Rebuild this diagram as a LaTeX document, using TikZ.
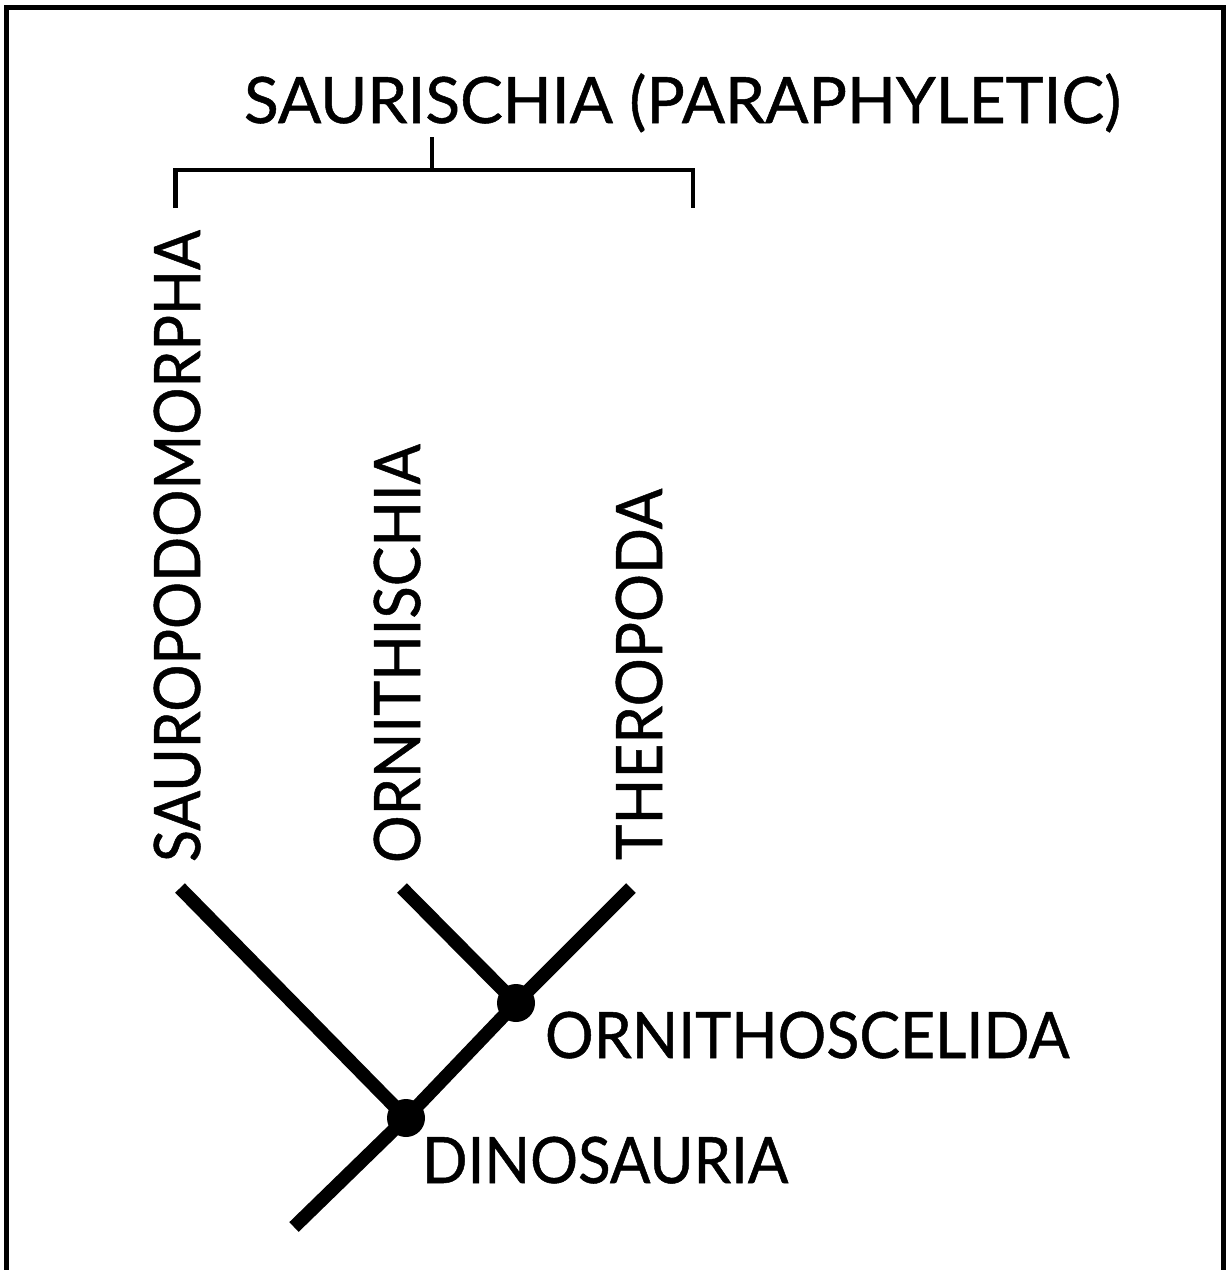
\documentclass[tikz,border=0pt]{standalone}
\usepackage{fontspec}
\setmainfont{Lato}[FakeBold=0.8]
\newcommand{\hsq}[2]{\scalebox{#1}[1]{#2}}
\begin{document}
\begin{tikzpicture}[x=1pt,y=1pt,
  lab/.style={inner sep=0pt, outer sep=0pt, font=\fontsize{64}{64}\selectfont},
  branch/.style={line width=13.5pt, line cap=butt},
  brk/.style={line width=4.5pt, line cap=butt, line join=miter},
  dot/.style={circle, fill=black, inner sep=0pt, minimum size=38pt}]
\useasboundingbox (0,0) rectangle (1229,-1270);
\clip (0,0) rectangle (1229,-1270);
\fill[white] (0,0) rectangle (1229,-1270);
% frame
\draw[line width=5pt] (6,-1280) -- (6,-7.5) -- (1223,-7.5) -- (1223,-1280);
% title and bracket
\node[lab, anchor=base west] (title) at (244,-123) {\hsq{1.0}{SAURISCHIA (PARAPHYLETIC)}};
\coordinate (bl) at (175.5,-208);
\coordinate (br) at (693,-208);
\coordinate (bm) at (432,-170);
\coordinate (bt) at (432,-137);
\draw[brk] (bl) -- (175.5,-170) -- (693,-170) -- (br);
\draw[brk] (bt) -- (bm);
% taxa labels
\node[lab, rotate=90, anchor=base west] (sauro) at (200,-862) {\hsq{0.922}{SAUROPODOMORPHA}};
\node[lab, rotate=90, anchor=base west] (ornith) at (420,-863) {\hsq{0.93}{ORNITHISCHIA}};
\node[lab, rotate=90, anchor=base west] (thero) at (662,-860) {\hsq{0.94}{THEROPODA}};
% tree
\coordinate (root) at (294,-1227);
\coordinate (dino) at (406,-1118);
\coordinate (orn) at (516,-1003);
\coordinate (tsauro) at (180,-888);
\coordinate (tornith) at (402,-888);
\coordinate (tthero) at (631,-888);
\draw[branch] (root) -- (dino) -- (orn) -- (tthero);
\draw[branch] (dino) -- (tsauro);
\draw[branch] (orn) -- (tornith);
\node[dot] (dinodot) at (dino) {};
\node[dot] (orndot) at (orn) {};
\node[lab, anchor=base west] (ornlab) at (545,-1058) {\hsq{0.95}{ORNITHOSCELIDA}};
\node[lab, anchor=base west] (dinolab) at (422,-1183) {\hsq{0.936}{DINOSAURIA}};
\end{tikzpicture}
\end{document}
